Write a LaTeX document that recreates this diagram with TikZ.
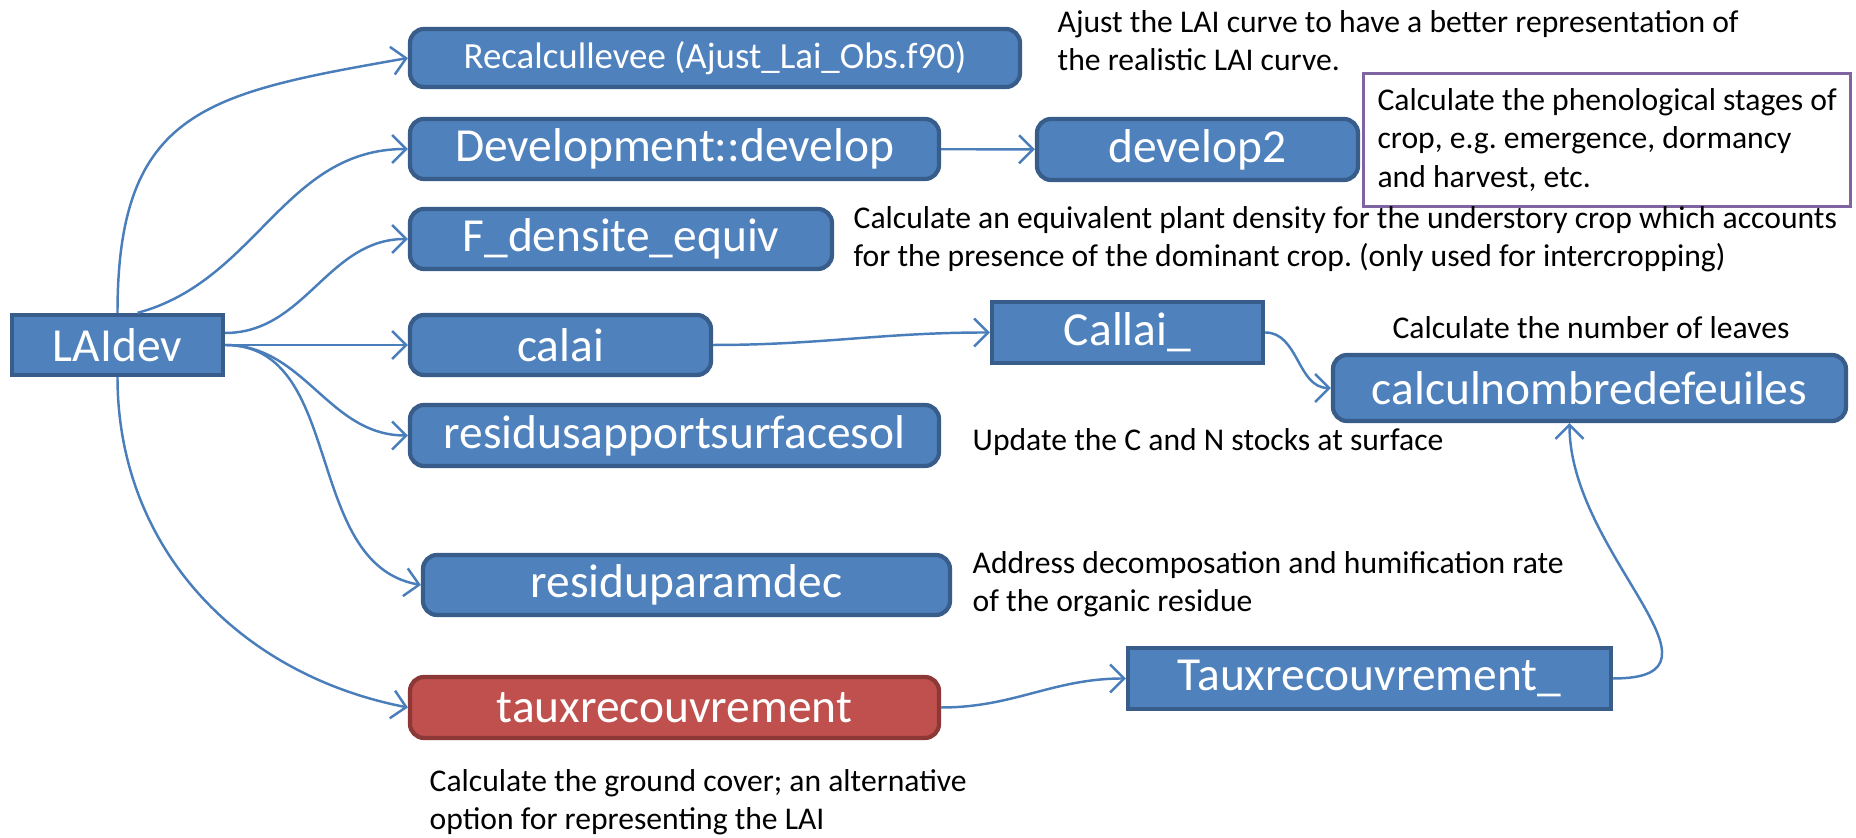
\documentclass[tikz,border=0pt]{standalone}
\usepackage{fontspec}
\setmainfont{Carlito}
\usetikzlibrary{arrows.meta}

\definecolor{boxblue}{HTML}{4F81BD}
\definecolor{boxline}{HTML}{385D8A}
\definecolor{boxred}{HTML}{C0504D}
\definecolor{redline}{HTML}{8C3836}
\definecolor{linkblue}{HTML}{4A7EBB}
\definecolor{purpline}{HTML}{8064A2}

\begin{document}
\frenchspacing
\begin{tikzpicture}[>={Straight Barb[length=4pt,width=8pt]},
    sq/.style={draw=boxline, fill=boxblue, line width=1.2pt, text=white, inner sep=0pt,
        font=\fontsize{13.5}{16}\selectfont},
    rnd/.style={sq, rounded corners=4pt},
    note/.style={inner sep=0pt, align=left, font=\fontsize{9}{10.8}\selectfont},
    link/.style={->, color=linkblue, line width=0.7pt}]
    \useasboundingbox (0,0) rectangle (18.56,8.38);

    \node[sq, minimum width=2.11cm, minimum height=0.6cm] (lai) at (1.175,4.93) {LAIdev};
    \node[rnd, minimum width=6.1cm, minimum height=0.58cm, font=\fontsize{10.5}{12}\selectfont] (recalc) at (7.15,7.80) {Recalcullevee (Ajust\_Lai\_Obs.f90)};
    \node[rnd, minimum width=5.29cm, minimum height=0.6cm] (dev) at (6.745,6.89) {Development::develop};
    \node[rnd, minimum width=3.21cm, minimum height=0.61cm] (dev2) at (11.975,6.885) {develop2};
    \node[rnd, minimum width=4.22cm, minimum height=0.6cm] (fdens) at (6.21,5.99) {F\_densite\_equiv};
    \node[rnd, minimum width=3.01cm, minimum height=0.6cm] (calai) at (5.605,4.93) {calai};
    \node[sq, minimum width=2.71cm, minimum height=0.61cm] (callai) at (11.275,5.055) {Callai\_};
    \node[rnd, minimum width=5.13cm, minimum height=0.66cm] (nbfeuil) at (15.895,4.50) {calculnombredefeuiles};
    \node[rnd, minimum width=5.29cm, minimum height=0.61cm] (resisurf) at (6.745,4.025) {residusapportsurfacesol};
    \node[rnd, minimum width=5.27cm, minimum height=0.6cm] (resiparam) at (6.865,2.53) {residuparamdec};
    \node[rnd, draw=redline, fill=boxred, minimum width=5.29cm, minimum height=0.61cm] (taux) at (6.745,1.305) {tauxrecouvrement};
    \node[sq, minimum width=4.83cm, minimum height=0.61cm] (tauxbis) at (13.695,1.595) {Tauxrecouvrement\_};

    % comments next to the boxes
    \node[note] (recalcnote) [anchor=west] at (10.57,7.97) {Ajust the LAI curve to have a better representation of\\the realistic LAI curve.};
    \node[note, draw=purpline, line width=0.9pt, minimum height=1.33cm, inner xsep=0.14cm,
        font=\fontsize{9}{11}\selectfont] (devnote) [anchor=west] at (13.62,6.98)
        {Calculate the phenological stages of\\crop, e.g. emergence, dormancy\\and harvest, etc.};
    \node[note] (fdensnote) [anchor=west] at (8.53,5.99) {Calculate an equivalent plant density for the understory crop which accounts\\for the presence of the dominant crop. (only used for intercropping)};
    \node[note] (nbnote) at (15.91,5.10) {Calculate the number of leaves};
    \node[note] (surfnote) [anchor=west] at (9.72,3.96) {Update the C and N stocks at surface};
    \node[note] (paramnote) [anchor=west] at (9.72,2.535) {Address decomposation and humification rate\\of the organic residue};
    \node[note] (tauxnote) [anchor=west] at (4.29,0.355) {Calculate the ground cover; an alternative\\option for representing the LAI};

    \path[link] (lai.north) edge[out=90, in=190, looseness=1.35] (recalc.west);
    \path[link] ([xshift=0.2cm]lai.north) edge[out=15, in=180] (dev.west);
    \path[link] ([yshift=0.12cm]lai.east) edge[out=0, in=180] (fdens.west);
    \path[link] (lai.east) edge (calai.west);
    \path[link] (lai.east) edge[out=0, in=180] (resisurf.west);
    \path[link] (lai.east) edge[out=0, in=170] (resiparam.west);
    \path[link] (lai.south) edge[out=-90, in=169] (taux.west);
    \path[link] (dev) edge (dev2);
    \path[link] (calai.east) edge[out=0, in=180] (callai.west);
    \path[link] (callai.east) edge[out=0, in=180] (nbfeuil.west);
    \path[link] (taux.east) edge[out=0, in=180] (tauxbis.west);
    \path[link] (tauxbis.east) edge[out=0, in=-90, looseness=1.3] ([xshift=-0.2cm]nbfeuil.south);
\end{tikzpicture}
\end{document}
